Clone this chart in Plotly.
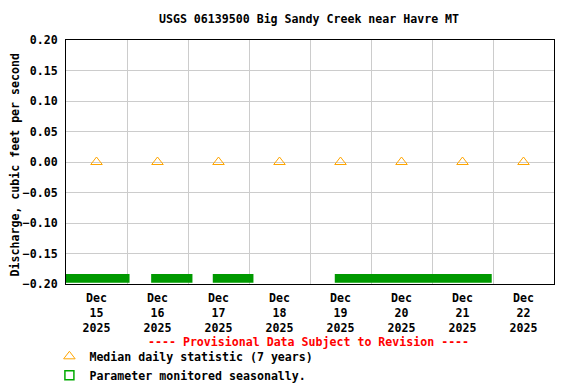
import plotly.graph_objects as go
import pandas as pd

# ---- data ----
median_days = ["2025-12-15 12:00", "2025-12-16 12:00", "2025-12-17 12:00", "2025-12-18 12:00",
               "2025-12-19 12:00", "2025-12-20 12:00", "2025-12-21 12:00", "2025-12-22 12:00"]
median_values = [0.0, 0.0, 0.0, 0.0, 0.0, 0.0, 0.0, 0.0]
tick_labels = ["Dec<br>15<br>2025", "Dec<br>16<br>2025", "Dec<br>17<br>2025", "Dec<br>18<br>2025",
               "Dec<br>19<br>2025", "Dec<br>20<br>2025", "Dec<br>21<br>2025", "Dec<br>22<br>2025"]
season_start = ["2025-12-14 22:00", "2025-12-16 09:30", "2025-12-17 09:45", "2025-12-19 09:45"]
season_end = ["2025-12-16 01:00", "2025-12-17 01:45", "2025-12-18 01:45", "2025-12-21 23:30"]
season_level = -0.1908
x_range = ["2025-12-15 00:00", "2025-12-23 00:00"]
y_ticks = [0.2, 0.15, 0.1, 0.05, 0.0, -0.05, -0.1, -0.15, -0.2]

FONT = "DejaVu Sans Mono"
FS = 11.6


def to_ms(t):
    return pd.Timestamp(t).value / 1e6


mids_ms = [(to_ms(s) + to_ms(e)) / 2 for s, e in zip(season_start, season_end)]
half_ms = [(to_ms(e) - to_ms(s)) / 2 for s, e in zip(season_start, season_end)]

fig = go.Figure()
# seasonal-monitoring bars along the bottom edge, drawn as horizontal spans on a
# hidden millisecond axis that overlays the date axis exactly
fig.add_trace(go.Scatter(
    x=mids_ms, y=[season_level] * len(mids_ms), mode="markers", xaxis="x2",
    marker=dict(size=1, color="rgba(0,0,0,0)"),
    error_x=dict(type="data", symmetric=True, array=half_ms, thickness=8.7, width=0,
                 color="#009900"),
    cliponaxis=False, showlegend=False, hoverinfo="skip"))
fig.add_trace(go.Scatter(
    x=median_days, y=median_values, mode="markers",
    marker=dict(symbol="triangle-up-open", size=10, color="#FFA500", line=dict(width=1)),
    name="Median daily statistic (7 years)"))
fig.add_trace(go.Scatter(
    x=[None], y=[None], mode="markers",
    marker=dict(symbol="square-open", size=9, color="#00AA00", line=dict(width=1.5)),
    name="Parameter monitored seasonally."))

fig.update_layout(
    width=576, height=384,
    margin=dict(l=58, r=30, t=32, b=108, autoexpand=False),
    paper_bgcolor="white", plot_bgcolor="white",
    font=dict(family=FONT, size=FS, color="black", weight="bold"),
    title=dict(text="USGS 06139500 Big Sandy Creek near Havre MT", x=0.5226, xanchor="center",
               y=0.971, yanchor="middle", font=dict(family=FONT, size=FS, weight="bold")),
    showlegend=True,
    legend=dict(x=-0.034, xanchor="left", y=-0.237, yanchor="top", bgcolor="rgba(0,0,0,0)",
                font=dict(family=FONT, size=FS, weight="bold"), tracegroupgap=0,
                itemwidth=30),
    xaxis2=dict(type="linear", overlaying="x", anchor="y", visible=False, automargin=False,
                range=[to_ms(x_range[0]), to_ms(x_range[1])], showgrid=False, zeroline=False,
                fixedrange=True),
)
fig.layout.xaxis.update(
    type="date", range=x_range, automargin=False,
    tickmode="array", tickvals=median_days, ticktext=tick_labels, ticklabelstandoff=3,
    showgrid=False, ticks="", showline=True, linecolor="black", linewidth=1, mirror=True,
    minor=dict(tick0=x_range[0], dtick=86400000, showgrid=True, gridcolor="#cccccc",
               gridwidth=1, ticks=""),
    tickfont=dict(family=FONT, size=FS, weight="bold"), zeroline=False, fixedrange=True)
fig.update_yaxes(
    range=[-0.2, 0.2], tickmode="array", automargin=False, ticklabelstandoff=5,
    tickvals=y_ticks, tickformat=".2f", showgrid=True, gridcolor="#cccccc", gridwidth=1,
    showline=True, linecolor="black", linewidth=1, mirror=True, zeroline=False, ticks="",
    tickfont=dict(family=FONT, size=FS, weight="bold"), fixedrange=True)
fig.add_annotation(text="Discharge, cubic feet per second", xref="paper", yref="paper",
                   x=-0.1045, y=0.486, xanchor="center", yanchor="middle", textangle=-90,
                   showarrow=False, font=dict(family=FONT, size=FS, color="black", weight="bold"))
fig.add_annotation(text="---- Provisional Data Subject to Revision ----", xref="paper", yref="paper",
                   x=0.496, y=-0.238, xanchor="center", yanchor="middle", showarrow=False,
                   font=dict(family=FONT, size=FS, color="red", weight="bold"))

fig.write_html("out.html")
